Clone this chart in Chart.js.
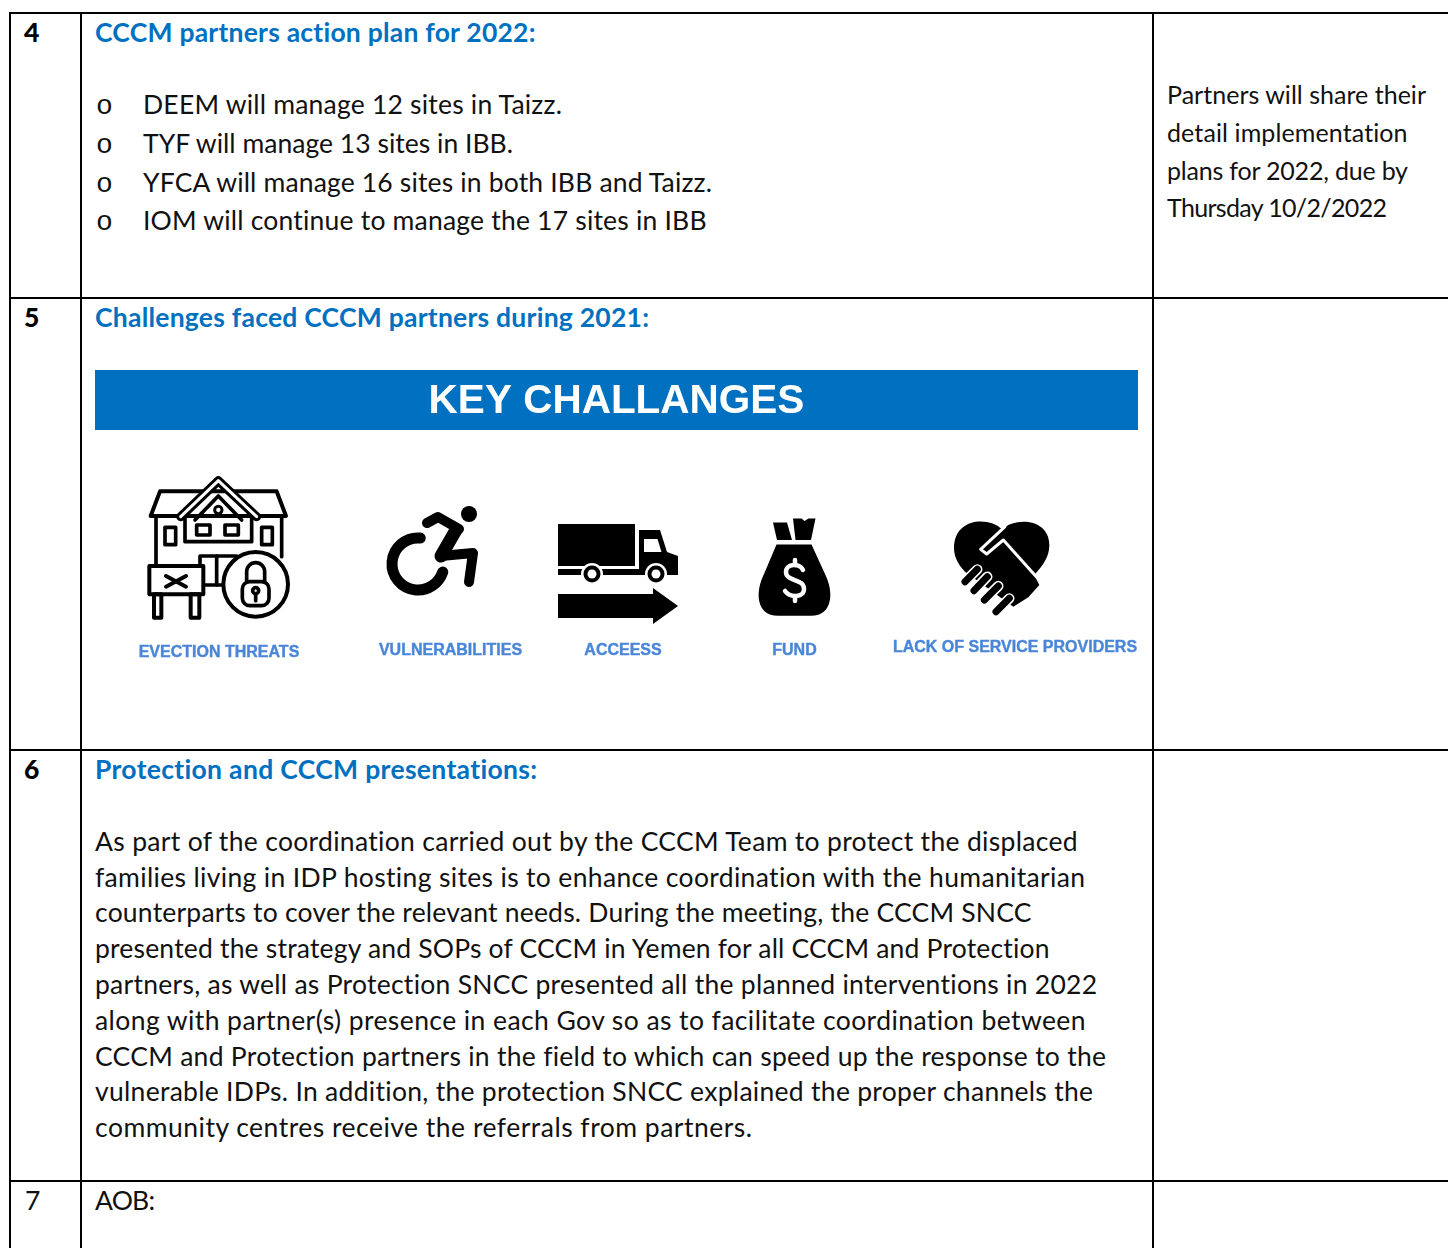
<!DOCTYPE html>
<html>
<head>
<meta charset="utf-8">
<title>CCCM meeting minutes</title>
<script src="https://cdn.jsdelivr.net/npm/chart.js@4/dist/chart.umd.min.js"></script>
<style>
    html, body { margin: 0; padding: 0; background: #fff; overflow: hidden; }
    #page { position: relative; width: 1448px; height: 1248px; overflow: hidden; }
    .rule { position: absolute; background: #000; }
    .line { position: absolute; white-space: nowrap; font-family: Lato, sans-serif; font-size: 26.5px; line-height: 40px; color: #111; }
    .side { font-size: 25px; }
    .head { font-weight: 700; color: #0070c0; }
    .num { font-weight: 900; color: #000; }
    .bullet { font-family: "Liberation Mono", monospace; font-size: 28px; }
    #challenges { position: absolute; left: 95px; top: 370px; }
</style>
</head>
<body>
<div id="page">
    <canvas id="challenges" width="1043" height="300"></canvas>
</div>
<script>
const challengeLabels = ['EVECTION THREATS', 'VULNERABILITIES', 'ACCEESS', 'FUND', 'LACK OF SERVICE PROVIDERS'];
const iconX = [220, 435, 620, 800, 1000];
const iconY = [547.5, 550, 575, 570, 570];
const labelX = [219, 450.5, 623, 794.5, 1015];
const labelY = [652.5, 650.5, 650.5, 650.5, 647.5];

const planLines = [
    'DEEM will manage 12 sites in Taizz.',
    'TYF will manage 13 sites in IBB.',
    'YFCA will manage 16 sites in both IBB and Taizz.',
    'IOM will continue to manage the 17 sites in IBB'
];
const sideLines = [
    'Partners will share their',
    'detail implementation',
    'plans for 2022, due by',
    'Thursday 10/2/2022'
];
const paragraphLines = [
    'As part of the coordination carried out by the CCCM Team to protect the displaced',
    'families living in IDP hosting sites is to enhance coordination with the humanitarian',
    'counterparts to cover the relevant needs. During the meeting, the CCCM SNCC',
    'presented the strategy and SOPs of CCCM in Yemen for all CCCM and Protection',
    'partners, as well as Protection SNCC presented all the planned interventions in 2022',
    'along with partner(s) presence in each Gov so as to facilitate coordination between',
    'CCCM and Protection partners in the field to which can speed up the response to the',
    'vulnerable IDPs. In addition, the protection SNCC explained the proper channels the',
    'community centres receive the referrals from partners.'
];

const page = document.getElementById('page');

// table rules
const addRule = (left, top, width, height) => {
    const el = document.createElement('div');
    el.className = 'rule';
    el.style.cssText = `left:${left}px;top:${top}px;width:${width}px;height:${height}px`;
    page.appendChild(el);
};
[9, 80, 1152].forEach(x => addRule(x, 12, 2, 1236));
[12, 297, 749, 1180].forEach(y => addRule(9, y, 1439, 2));

// every text line is stretched a little to end where it ends in the document
const addLine = (text, left, middle, right, cls) => {
    const el = document.createElement('div');
    el.className = `line ${cls || ''}`;
    el.textContent = text;
    el.style.left = `${left}px`;
    el.style.top = `${middle - 20.5}px`;
    page.appendChild(el);
    if (right) {
        const gap = (right - left - el.getBoundingClientRect().width) / (text.length - 1);
        el.style.letterSpacing = `${gap.toFixed(3)}px`;
    }
};

addLine('4', 24, 32, 0, 'num');
addLine('CCCM partners action plan for 2022:', 95, 32, 536, 'head');
const planMiddle = [104, 143, 182, 220];
const planRight = [562, 513, 712, 707];
planLines.forEach((text, i) => {
    addLine('o', 96, planMiddle[i] + 3, 0, 'bullet');
    addLine(text, 143, planMiddle[i], planRight[i]);
});
const sideMiddle = [94, 132, 170, 207];
const sideRight = [1426, 1408, 1408, 1387];
sideLines.forEach((text, i) => addLine(text, 1167, sideMiddle[i], sideRight[i], 'side'));

addLine('5', 24, 317, 0, 'num');
addLine('Challenges faced CCCM partners during 2021:', 95, 317, 649, 'head');

addLine('6', 24, 769, 0, 'num');
addLine('Protection and CCCM presentations:', 95, 769, 538, 'head');
const paragraphMiddle = [841, 877, 912, 948, 984, 1020, 1056, 1091, 1127];
const paragraphRight = [1078, 1086, 1032, 1050, 1098, 1086, 1106, 1094, 752];
paragraphLines.forEach((text, i) => addLine(text, 95, paragraphMiddle[i], paragraphRight[i]));

addLine('7', 25, 1200);
addLine('AOB:', 95, 1200, 155);

// icons are drawn in page coordinates, on a canvas centred on the point
const makeIcon = (cx, cy, w, h, draw) => {
    const c = document.createElement('canvas');
    c.width = w;
    c.height = h;
    const g = c.getContext('2d');
    g.translate(w / 2 - cx, h / 2 - cy);
    g.lineCap = 'round';
    g.lineJoin = 'round';
    g.strokeStyle = '#000';
    g.fillStyle = '#000';
    draw(g);
    return c;
};
const poly = (g, pts, close) => {
    g.beginPath();
    pts.forEach(([x, y], i) => (i ? g.lineTo(x, y) : g.moveTo(x, y)));
    if (close) g.closePath();
};

const houseIcon = makeIcon(iconX[0], iconY[0], 160, 155, g => {
    g.translate(140, 470);
    g.scale(1 / 3, 1 / 3);
    g.lineWidth = 12;
    g.fillStyle = '#fff';
    poly(g, [[60, 64], [410, 64], [438, 138], [32, 138]], true);
    g.fill();
    g.stroke();
    g.lineWidth = 11;
    poly(g, [[48, 138], [48, 290]]); g.stroke();
    poly(g, [[425, 138], [425, 260]]); g.stroke();
    g.strokeRect(75, 172, 32, 52);
    g.strokeRect(365, 172, 32, 52);
    g.strokeRect(170, 165, 40, 30);
    g.strokeRect(255, 165, 40, 30);
    poly(g, [[135, 140], [135, 215], [335, 215], [335, 140]]); g.stroke();
    poly(g, [[180, 345], [180, 258], [290, 258]]); g.stroke();
    poly(g, [[230, 258], [230, 345]]); g.stroke();
    poly(g, [[190, 345], [260, 345]]); g.stroke();
    poly(g, [[165, 150], [235, 78], [305, 150]]); g.stroke();
    g.lineWidth = 9;
    g.beginPath(); g.arc(235, 120, 11, 0, Math.PI * 2); g.stroke();
    // gable band
    g.strokeStyle = '#000';
    g.lineWidth = 27;
    poly(g, [[122, 140], [235, 32], [350, 140]]); g.stroke();
    g.strokeStyle = '#fff';
    g.lineWidth = 9;
    poly(g, [[122, 140], [235, 32], [350, 140]]); g.stroke();
    g.strokeStyle = '#000';
    // sign
    g.lineWidth = 12;
    g.fillRect(28, 288, 162, 85);
    g.strokeRect(28, 288, 162, 85);
    g.strokeRect(42, 373, 22, 70);
    g.strokeRect(152, 373, 26, 70);
    poly(g, [[78, 318], [138, 350]]); g.stroke();
    poly(g, [[78, 350], [138, 318]]); g.stroke();
    // lock
    g.beginPath(); g.arc(347, 343, 97, 0, Math.PI * 2); g.fill(); g.stroke();
    g.lineWidth = 11;
    g.beginPath();
    g.moveTo(320, 335);
    g.lineTo(320, 305);
    g.arc(347, 305, 27, Math.PI, 0);
    g.lineTo(374, 335);
    g.stroke();
    g.beginPath();
    g.roundRect(307, 335, 80, 72, 22);
    g.stroke();
    g.beginPath(); g.arc(347, 362, 9, 0, Math.PI * 2); g.stroke();
    poly(g, [[347, 372], [347, 392]]); g.stroke();
});

const chairIcon = makeIcon(iconX[1], iconY[1], 110, 110, g => {
    g.beginPath(); g.arc(469, 514, 8, 0, Math.PI * 2); g.fill();
    g.lineWidth = 11;
    g.beginPath();
    g.arc(418, 564, 26, -85 * Math.PI / 180, 18 * Math.PI / 180, true);
    g.stroke();
    g.lineWidth = 10;
    poly(g, [[427, 523], [438, 517], [459, 529]]); g.stroke();
    g.lineWidth = 13;
    poly(g, [[456, 530], [441, 556]]); g.stroke();
    g.lineWidth = 10;
    poly(g, [[441, 556], [473, 553], [469, 582]]); g.stroke();
});

const truckIcon = makeIcon(iconX[2], iconY[2], 140, 120, g => {
    g.fillRect(558, 524, 77, 42);
    poly(g, [[639, 530], [660, 530], [667, 552], [678, 556], [678, 575], [558, 575], [558, 569], [639, 569]], true);
    g.fill();
    g.fillStyle = '#fff';
    poly(g, [[644, 539], [657.5, 539], [661.5, 552], [644, 552]], true);
    g.fill();
    [592, 656].forEach(x => {
        g.fillStyle = '#fff';
        g.beginPath(); g.arc(x, 574, 11, 0, Math.PI * 2); g.fill();
        g.fillStyle = '#000';
        g.beginPath(); g.arc(x, 574, 8.5, 0, Math.PI * 2); g.fill();
        g.fillStyle = '#fff';
        g.beginPath(); g.arc(x, 574, 4.5, 0, Math.PI * 2); g.fill();
    });
    g.fillStyle = '#000';
    poly(g, [[558, 594], [653, 594], [653, 588], [678, 606], [653, 624], [653, 618], [558, 618]], true);
    g.fill();
});

const bagIcon = makeIcon(iconX[3], iconY[3], 90, 110, g => {
    g.beginPath();
    g.moveTo(776.5, 544.5);
    g.lineTo(811.5, 544.5);
    g.lineTo(825, 574);
    g.bezierCurveTo(834, 592, 833, 615.7, 811, 615.7);
    g.lineTo(778, 615.7);
    g.bezierCurveTo(756, 615.7, 755, 592, 764, 574);
    g.closePath();
    g.fill();
    poly(g, [[773, 522.5], [787, 522.5], [792, 540], [777, 540]], true);
    g.fill();
    poly(g, [[793, 518.5], [801.5, 518.5], [804.5, 521], [808.5, 518.5], [815.5, 518.5], [811, 540], [795.5, 540]], true);
    g.fill();
    // dollar sign
    g.strokeStyle = '#fff';
    g.lineWidth = 4.5;
    g.beginPath();
    g.moveTo(803, 570);
    g.bezierCurveTo(800, 563, 786, 563, 786, 572);
    g.bezierCurveTo(786, 582, 804, 578, 804, 589);
    g.bezierCurveTo(804, 598, 790, 598, 785, 591);
    g.stroke();
    poly(g, [[795, 560], [795, 565]]); g.stroke();
    poly(g, [[795, 596], [795, 601]]); g.stroke();
});

const heartIcon = makeIcon(iconX[4], iconY[4], 120, 110, g => {
    g.translate(940, 510);
    g.scale(1 / 3, 1 / 3);
    g.beginPath();
    g.moveTo(186, 58);
    g.bezierCurveTo(150, 20, 42, 20, 42, 115);
    g.bezierCurveTo(42, 145, 60, 170, 75, 185);
    g.lineTo(220, 290);
    g.lineTo(265, 262);
    g.lineTo(298, 225);
    g.lineTo(283, 195);
    g.bezierCurveTo(310, 165, 328, 140, 328, 105);
    g.bezierCurveTo(328, 25, 226, 20, 186, 58);
    g.closePath();
    g.fill();
    g.strokeStyle = '#fff';
    g.lineWidth = 9;
    poly(g, [[195, 50], [122, 118], [140, 132], [190, 90], [305, 218]]);
    g.stroke();
    [[112, 178, 75, 215], [142, 200, 102, 242], [175, 228, 133, 270], [208, 265, 168, 305]].forEach(([x1, y1, x2, y2]) => {
        g.strokeStyle = '#fff';
        g.lineWidth = 31;
        poly(g, [[x1, y1], [x2, y2]]); g.stroke();
    });
    [[112, 178, 75, 215], [142, 200, 102, 242], [175, 228, 133, 270], [208, 265, 168, 305]].forEach(([x1, y1, x2, y2]) => {
        g.strokeStyle = '#000';
        g.lineWidth = 21;
        poly(g, [[x1, y1], [x2, y2]]); g.stroke();
    });
});

const titleBand = {
    id: 'titleBand',
    beforeDraw(chart) {
        const t = chart.titleBlock;
        chart.ctx.save();
        chart.ctx.fillStyle = '#0070c0';
        chart.ctx.fillRect(0, t.top, chart.width, t.height);
        chart.ctx.restore();
    }
};

const iconLabels = {
    id: 'iconLabels',
    afterDatasetsDraw(chart) {
        const ctx = chart.ctx;
        ctx.save();
        ctx.font = 'bold 16px "Liberation Sans"';
        ctx.fillStyle = '#4a86d8';
        ctx.strokeStyle = '#4a86d8';
        ctx.lineWidth = 0.4;
        ctx.textAlign = 'center';
        ctx.textBaseline = 'middle';
        chart.getDatasetMeta(1).data.forEach((pt, i) => {
            ctx.fillText(challengeLabels[i], pt.x, pt.y);
            ctx.strokeText(challengeLabels[i], pt.x, pt.y);
        });
        ctx.restore();
    }
};

new Chart(document.getElementById('challenges'), {
    type: 'scatter',
    data: {
        datasets: [
            {
                label: 'icons',
                data: iconX.map((x, i) => ({ x, y: iconY[i] })),
                pointStyle: [houseIcon, chairIcon, truckIcon, bagIcon, heartIcon],
                clip: false
            },
            {
                label: 'labels',
                data: labelX.map((x, i) => ({ x, y: labelY[i] })),
                pointRadius: 0
            }
        ]
    },
    options: {
        responsive: false,
        animation: false,
        layout: { padding: 0, autoPadding: false },
        plugins: {
            legend: { display: false },
            tooltip: { enabled: false },
            title: {
                display: true,
                text: 'KEY CHALLANGES',
                color: '#fff',
                font: { family: 'Liberation Sans', size: 40.5, weight: 'bold', lineHeight: 1 },
                padding: { top: 12, bottom: 7.5 }
            }
        },
        scales: {
            x: { type: 'linear', display: false, min: 95, max: 1138 },
            y: { type: 'linear', display: false, min: 430, max: 670, reverse: true }
        }
    },
    plugins: [titleBand, iconLabels]
});
</script>
</body>
</html>
